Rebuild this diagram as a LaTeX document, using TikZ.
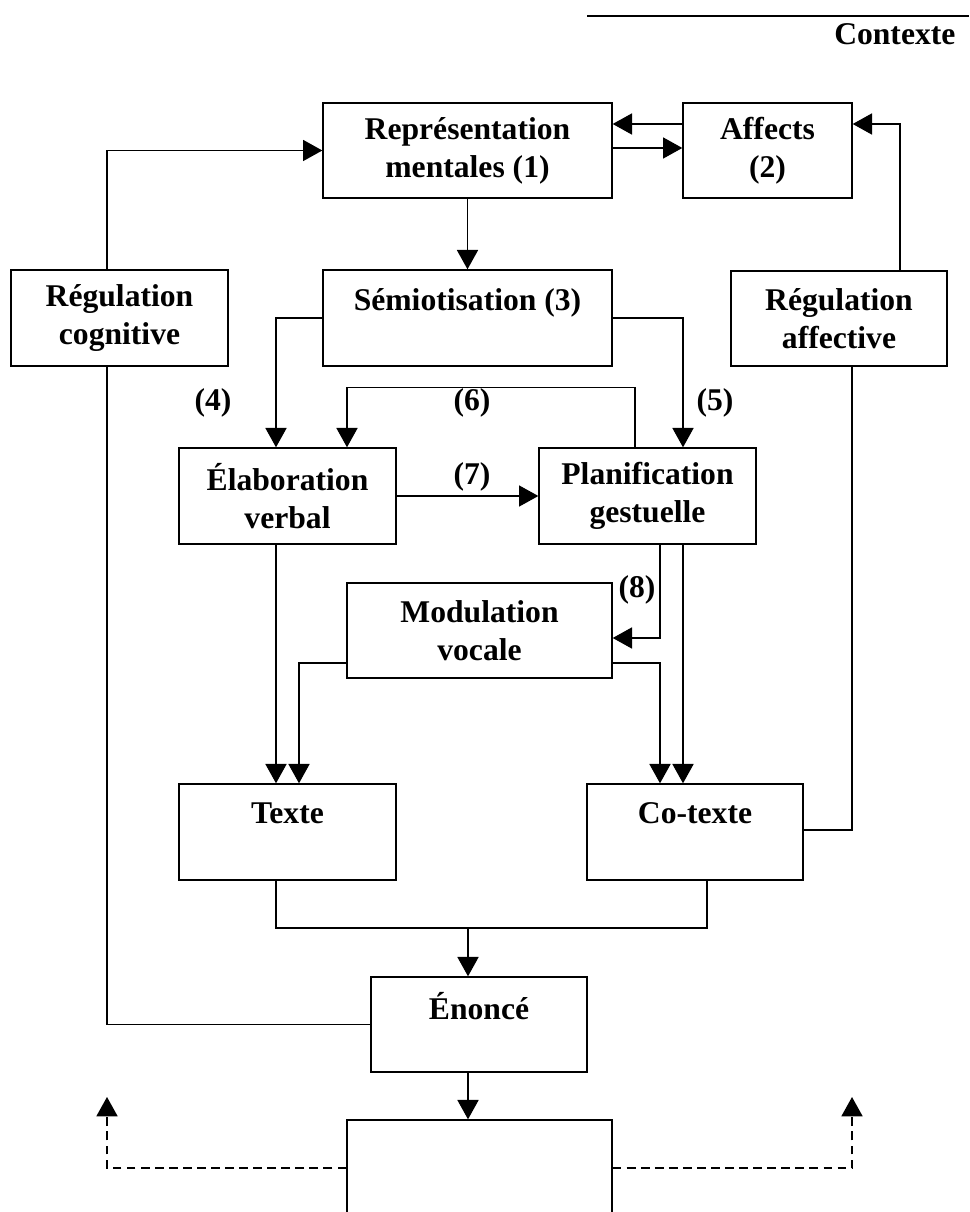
\documentclass[tikz,border=0pt]{standalone}
\usepackage{fontspec}
\setmainfont{Liberation Serif}
\usetikzlibrary{arrows.meta}
\tikzset{
  bloc/.style={draw,line width=0.8pt,align=center,inner sep=0pt,
    font=\bfseries\fontsize{18}{21.5}\selectfont},
  num/.style={font=\bfseries\fontsize{18}{21.5}\selectfont},
  fl/.style={-{Triangle[length=11pt,width=12pt]}}
}
\begin{document}
\begin{tikzpicture}[x=0.02cm,y=-0.02cm,line width=0.8pt]
    \useasboundingbox (0,0) rectangle (969,1212);
    %contexte
    \coordinate (c1) at (587,16);
    \coordinate (c2) at (969,16);
    \draw (c1)--(c2);
    \node[num,anchor=east] (ctx) at (962,34) {Contexte};

    %blocs
    \node[bloc,minimum width=5.78cm,minimum height=1.9cm] (rep) at (467.5,150.5) {Représentation\\mentales (1)};
    \node[bloc,minimum width=3.38cm,minimum height=1.9cm] (aff) at (767.5,150.5) {Affects\\(2)};
    \node[bloc,minimum width=4.34cm,minimum height=1.92cm] (regc) at (119.5,318) {Régulation\\cognitive};
    \node[bloc,minimum width=5.78cm,minimum height=1.92cm] (semio) at (467.5,318) {Sémiotisation (3)\\~};
    \node[bloc,minimum width=4.32cm,minimum height=1.9cm] (rega) at (839,318.5) {Régulation\\affective};
    \node[bloc,minimum width=4.34cm,minimum height=1.92cm] (elab) at (287.5,496) {Élaboration\\verbal};
    \node[bloc,minimum width=4.34cm,minimum height=1.92cm] (plan) at (647.5,496) {Planification\\gestuelle};
    \node[bloc,minimum width=5.3cm,minimum height=1.9cm] (modul) at (479.5,630.5) {Modulation\\vocale};
    \node[bloc,minimum width=4.34cm,minimum height=1.92cm] (texte) at (287.5,832) {Texte\\~};
    \node[bloc,minimum width=4.32cm,minimum height=1.92cm] (cotexte) at (695,832) {Co-texte\\~};
    \node[bloc,minimum width=4.32cm,minimum height=1.9cm] (enonce) at (479,1024.5) {Énoncé\\~};
    \node[bloc,minimum width=5.3cm,minimum height=2.2cm] (fin) at (479.5,1175) {};

    %numeros
    \node[num] (n4) at (213,403) {(4)};
    \node[num] (n5) at (715,403) {(5)};
    \node[num] (n6) at (472,403) {(6)};
    \node[num] (n7) at (472,477) {(7)};
    \node[num] (n8) at (637,590) {(8)};

    %fleches du haut
    \draw[fl] (regc.north -| 107,0) |- (rep.west);
    \draw[fl] (aff.west |- 0,124) -- (rep.east |- 0,124);
    \draw[fl] (rep.east |- 0,148) -- (aff.west |- 0,148);
    \draw[fl] (rega.north -| 900,0) |- (aff.east |- 0,124);
    \draw[fl] (rep.south) -- (semio.north);

    %semiotisation
    \draw[fl] (semio.west) -| (elab.north -| 276,0);
    \draw[fl] (semio.east) -| (plan.north -| 683,0);
    \draw[fl] (plan.north -| 635,0) -- ++(0,-60) -| (elab.north -| 347,0);
    \draw[fl] (elab.east) -- (plan.west);

    %vers texte et co-texte
    \draw[fl] (plan.south -| 660,0) |- (modul.east |- 0,638);
    \draw[fl] (plan.south -| 683,0) -- (cotexte.north -| 683,0);
    \draw[fl] (modul.east |- 0,663) -| (cotexte.north -| 660,0);
    \draw[fl] (modul.west |- 0,663) -| (texte.north -| 299,0);
    \draw[fl] (elab.south -| 276,0) -- (texte.north -| 276,0);
    \draw (cotexte.east |- 0,830) -| (rega.south -| 852,0);

    %enonce
    \coordinate (jonc) at (468,928);
    \draw (texte.south -| 276,0) |- (jonc) -| (cotexte.south -| 707,0);
    \draw[fl] (jonc) -- (enonce.north -| jonc);
    \draw (enonce.west) -| (regc.south -| 107,0);
    \draw[fl] (enonce.south -| jonc) -- (fin.north -| jonc);

    %retours en pointilles
    \coordinate (dg) at (107,1097);
    \coordinate (dd) at (852,1097);
    \draw[fl,dash pattern=on 5pt off 3pt] (fin.west |- 0,1168) -| (dg);
    \draw[fl,dash pattern=on 5pt off 3pt] (fin.east |- 0,1168) -| (dd);
\end{tikzpicture}
\end{document}
